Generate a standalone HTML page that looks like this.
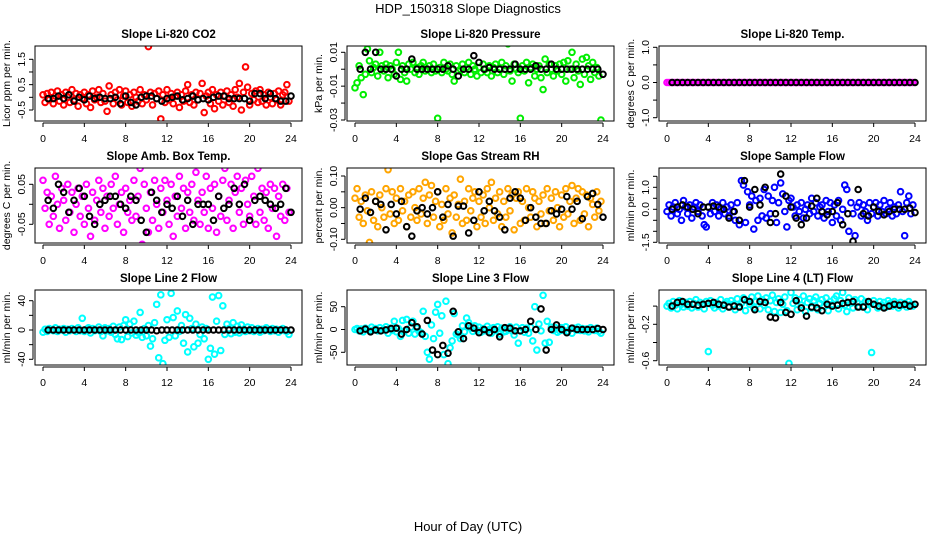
<!DOCTYPE html>
<html><head><meta charset="utf-8"><style>
html,body{margin:0;padding:0;background:#fff}
svg{display:block;font-family:"Liberation Sans",Arial,sans-serif}
</style></head><body>
<svg id="chart" width="936" height="540" viewBox="0 0 936 540">
<text x="468" y="13" text-anchor="middle" font-size="13">HDP_150318  Slope Diagnostics</text>
<text x="468" y="531" text-anchor="middle" font-size="13">Hour of Day (UTC)</text>
</svg>
<script>
const xTicks = [0,4,8,12,16,20,24];
const co2Colored = [0.1,-0.2,0.15,-0.1,0.2,-0.25,0.05,0.25,-0.15,0.1,-0.3,0.2,0.0,-0.2,0.3,-0.1,0.15,-0.35,0.1,-0.05,0.2,-0.25,0.1,-0.4,0.25,-0.1,0.0,0.3,-0.2,0.15,-0.15,-0.55,0.45,0.1,-0.25,0.2,-0.1,0.3,-0.3,0.05,0.25,-0.2,0.1,-0.35,0.2,0.0,-0.15,0.3,-0.25,0.1,-0.1,2.0,0.2,-0.3,0.15,-0.05,0.25,-0.85,0.1,-0.2,0.3,-0.1,0.15,-0.25,0.05,0.2,-0.4,0.1,-0.15,0.25,0.5,-0.2,0.1,-0.3,0.2,-0.1,0.15,0.55,-0.6,0.05,0.2,-0.25,0.3,-0.45,0.1,-0.15,0.2,-0.3,0.05,0.25,-0.2,0.1,-0.35,0.3,0.0,0.55,-0.5,0.2,1.2,0.4,-0.3,0.15,-0.1,0.25,-0.2,0.3,-0.15,0.1,-0.3,0.2,0.0,-0.25,0.15,-0.1,0.25,-0.3,0.1,0.2,0.5,-0.15];
const co2Black = [-0.05,-0.05,0.05,-0.05,0.1,-0.15,0.0,-0.1,0.05,-0.05,0.0,-0.05,-0.05,0.0,-0.25,0.05,-0.2,-0.3,0.0,0.05,0.05,-0.05,-0.15,-0.05,0.0,0.05,-0.1,-0.05,0.05,-0.1,-0.05,-0.1,0.0,0.05,0.05,-0.05,-0.05,-0.05,-0.05,-0.15,0.15,0.15,-0.05,0.15,-0.05,-0.15,-0.15,0.05];
const presColored = [-0.011,-0.008,0.002,-0.005,-0.015,-0.003,0.012,0.005,-0.002,0.001,0.003,-0.004,0.01,0.002,-0.001,0.003,-0.005,0.002,0.0,-0.003,0.004,0.01,-0.006,0.002,-0.002,-0.007,0.003,0.0,0.004,-0.002,0.001,-0.003,0.002,0.004,-0.001,0.0,0.002,-0.002,0.003,-0.001,-0.029,0.001,-0.002,0.004,0.0,-0.001,0.003,-0.003,-0.007,0.002,-0.001,0.0,0.003,-0.002,0.001,0.004,-0.003,0.002,0.0,-0.004,0.001,-0.002,0.003,0.0,-0.002,0.002,-0.004,0.001,0.003,-0.002,0.0,0.004,-0.003,0.002,0.015,-0.001,-0.007,0.003,0.0,-0.002,-0.029,0.002,-0.001,0.004,-0.008,0.001,0.003,-0.004,0.0,0.002,-0.005,-0.012,0.006,-0.002,0.003,0.0,-0.004,0.002,-0.001,0.003,-0.003,0.004,-0.007,0.005,0.0,0.01,-0.005,0.003,-0.001,-0.009,0.006,-0.003,0.007,0.002,-0.006,0.004,-0.002,0.001,-0.004,-0.03];
const presBlack = [0.0,0.01,0.0,0.01,0.0,0.0,0.0,-0.004,0.0,0.0,0.006,0.0,0.0,0.0,0.0,0.0,0.0,0.002,0.0,-0.004,0.0,0.0,0.008,0.004,0.0,0.001,0.0,0.0,0.0,0.0,0.003,0.0,0.0,0.0,0.002,0.0,0.0,0.003,0.0,0.0,0.0,0.0,0.0,0.0,0.0,0.0,0.0,-0.003];
const tempColored = [0,0,0,0,0,0,0,0,0,0,0,0,0,0,0,0,0,0,0,0,0,0,0,0,0,0,0,0,0,0,0,0,0,0,0,0,0,0,0,0,0,0,0,0,0,0,0,0,0,0,0,0,0,0,0,0,0,0,0,0,0,0,0,0,0,0,0,0,0,0,0,0,0,0,0,0,0,0,0,0,0,0,0,0,0,0,0,0,0,0,0,0,0,0,0,0,0,0,0,0,0,0,0,0,0,0,0,0,0,0,0,0,0,0,0,0,0,0,0,0];
const tempBlack = [0,0,0,0,0,0,0,0,0,0,0,0,0,0,0,0,0,0,0,0,0,0,0,0,0,0,0,0,0,0,0,0,0,0,0,0,0,0,0,0,0,0,0,0,0,0,0,0];
const ambColored = [0.06,-0.01,0.03,-0.05,0.02,-0.03,0.07,0.0,-0.06,0.04,0.01,-0.04,0.05,-0.02,0.03,-0.07,0.0,0.04,-0.03,0.02,-0.05,0.05,-0.01,-0.08,0.03,-0.04,0.01,0.06,-0.02,0.04,-0.06,0.02,-0.03,0.05,-0.01,0.07,-0.05,0.0,0.03,-0.07,0.04,-0.02,0.01,-0.04,0.06,-0.03,0.02,0.09,-0.1,0.05,-0.01,-0.07,0.03,-0.04,0.06,0.0,-0.06,0.04,-0.02,0.06,0.01,-0.05,0.05,-0.08,0.02,-0.03,0.07,-0.01,0.04,-0.06,0.03,-0.02,0.05,-0.04,0.08,0.01,-0.05,0.03,-0.02,0.07,-0.06,0.04,-0.01,0.05,-0.07,0.02,-0.03,0.06,0.09,-0.04,0.01,0.05,-0.06,0.03,0.07,-0.02,0.04,-0.05,0.06,0.0,-0.03,0.07,0.02,-0.05,0.09,-0.02,0.04,-0.04,0.03,-0.06,0.05,-0.01,0.04,-0.08,0.02,-0.03,0.05,-0.04,0.04,-0.02];
const ambBlack = [0.01,-0.01,0.05,0.03,-0.02,0.01,0.04,0.02,-0.03,-0.05,0.0,0.01,0.02,0.02,0.0,-0.01,0.02,0.01,-0.04,-0.07,0.03,0.01,-0.02,0.0,-0.01,0.02,-0.03,0.01,-0.05,0.0,0.0,0.0,-0.04,0.02,-0.01,0.0,0.04,0.0,0.05,-0.04,0.01,0.02,0.01,0.0,-0.01,0.0,0.04,-0.02];
const rhColored = [0.03,0.06,-0.03,0.02,-0.05,0.04,-0.01,-0.11,0.05,-0.04,0.02,-0.06,0.04,0.0,-0.03,0.06,0.12,-0.02,0.05,-0.05,0.03,-0.04,0.06,-0.01,0.02,-0.06,0.04,-0.03,0.05,0.0,-0.04,0.06,-0.02,0.03,0.08,-0.05,0.04,0.07,-0.03,0.02,0.05,-0.06,0.01,-0.04,0.06,-0.02,0.03,-0.08,0.04,-0.03,0.01,0.09,-0.05,0.02,-0.04,0.06,-0.01,0.03,0.05,-0.06,0.02,-0.03,0.04,-0.05,0.06,0.0,0.08,-0.04,0.03,-0.02,0.05,-0.06,0.02,-0.03,0.06,-0.01,0.04,-0.07,0.03,0.05,-0.05,0.02,-0.04,0.06,0.0,-0.03,0.05,0.03,-0.06,0.02,-0.02,0.04,-0.05,0.06,-0.01,0.03,-0.04,0.05,0.0,-0.06,0.04,-0.03,0.06,-0.02,0.02,0.07,-0.05,0.03,0.06,-0.04,0.05,-0.02,0.04,-0.06,0.03,0.01,-0.03,0.05,-0.01,0.02];
const rhBlack = [-0.005,0.03,-0.015,0.02,0.01,-0.07,0.01,-0.02,0.02,-0.06,-0.09,-0.01,0.0,-0.02,0.0,0.05,-0.03,0.01,-0.09,0.005,0.005,-0.08,-0.04,0.05,-0.01,0.02,-0.01,-0.03,-0.07,0.03,0.05,0.03,-0.04,0.0,-0.03,-0.05,-0.05,-0.01,-0.02,-0.005,0.035,-0.005,0.02,-0.035,0.035,0.045,0.01,-0.03];
const flowColored = [-0.1,0.2,-0.3,0.1,0.3,-0.2,0.0,-0.5,0.4,0.1,-0.2,0.2,-0.4,0.1,0.3,-0.1,0.2,-0.3,-0.7,-0.8,0.1,-0.2,0.3,-0.1,0.2,-0.3,0.0,0.3,-0.2,0.1,-0.3,0.2,-0.1,-0.5,0.3,-0.7,1.3,1.1,-0.6,0.8,0.2,0.6,-0.9,0.4,-0.5,0.5,-0.3,0.9,-0.4,0.6,-0.2,0.4,1.0,-0.6,0.3,1.2,0.7,-0.1,-0.8,0.4,0.5,0.1,-0.3,0.2,-0.1,0.3,-0.4,0.0,0.2,-0.2,0.5,-0.1,0.3,-0.3,0.1,0.2,-0.4,0.4,-0.1,0.3,-0.6,0.2,-0.3,0.4,-0.5,0.0,1.1,0.9,-1.0,0.3,-0.2,-1.2,0.1,0.3,-0.3,0.2,-0.1,-0.5,0.3,-0.2,0.1,0.3,-0.3,0.2,-0.1,0.4,-0.2,0.0,0.3,-0.3,0.1,-0.2,0.2,0.8,-0.1,-1.2,0.3,0.6,-0.2,0.2];
const flowBlack = [0.0,0.1,0.2,0.1,0.0,-0.2,0.1,0.1,0.15,0.1,0.0,-0.4,-0.1,-0.5,1.3,0.1,0.9,0.2,1.0,-0.6,-0.2,1.6,0.6,0.1,-0.4,-0.7,-0.4,0.15,0.5,-0.1,-0.25,-0.1,0.3,-0.7,-0.2,-1.45,0.9,-0.2,-0.3,0.1,-0.1,-0.25,-0.1,0.0,0.0,0.0,0.05,-0.15];
const line2Colored = [-3,1,-2,2,0,-1,3,-2,1,0,2,-3,1,-1,2,0,-2,3,-1,16,-2,1,3,-4,2,-1,0,4,-2,-8,3,-1,2,-3,5,-6,-12,4,-13,6,14,-9,8,-4,12,-7,-3,24,-10,2,-8,6,-22,-12,10,35,-38,48,-46,-14,14,-10,50,17,-8,26,-2,6,-18,21,-30,16,2,-23,8,-18,-6,4,-12,2,-40,-25,45,-33,12,47,-28,33,-6,8,2,-5,10,-3,5,-4,7,1,-2,4,-1,3,-2,0,2,-3,1,-1,3,0,-2,2,-1,1,-3,0,2,-1,-2,-6];
const line2Black = [0,0,0,0,0,0,0,0,0,0,0,0,0,0,0,0,0,0,0,0,0,-1,0,0,0,0,0,0,0,0,0,0,0,0,0,0,0,0,0,0,0,0,0,0,0,0,0,0];
const line3Colored = [0,2,-3,1,-5,3,0,-2,5,-1,2,-3,4,-2,0,6,-8,3,-2,18,-5,2,-15,20,-3,22,-8,5,18,-10,3,-4,-7,40,-15,-50,-65,10,-20,38,55,-8,30,-55,62,-75,-40,-25,35,-10,-12,-20,8,-5,25,15,3,-4,8,-2,5,-6,2,-3,7,0,-8,4,-2,6,-10,3,-5,-4,2,6,-3,-12,5,-30,-2,4,-6,3,-8,5,-25,50,-45,12,-3,75,-30,18,-28,5,-2,4,-6,-3,4,-2,6,-4,1,-8,3,-1,5,-2,2,-3,1,-5,4,0,-2,3,-4,-8];
const line3Black = [-3,1,-5,-1,-3,-1,2,3,-10,0,15,6,-10,20,-45,-55,-35,-52,40,-5,-20,8,3,-7,0,-7,0,-16,4,3,-3,-3,0,18,0,45,-45,0,10,0,-7,3,0,0,0,0,2,0];
const line4Colored = [0.0,0.03,-0.02,0.05,0.01,-0.03,0.06,0.02,-0.01,0.04,0.0,0.05,-0.02,0.03,0.07,-0.01,0.04,0.02,-0.03,0.05,-0.5,0.06,0.01,-0.02,0.04,0.0,0.07,-0.03,0.03,0.05,-0.01,0.06,0.02,-0.04,0.08,0.0,0.03,0.09,-0.05,0.06,0.02,0.1,-0.02,0.05,0.11,-0.03,0.07,0.01,0.09,-0.04,0.06,0.12,-0.06,0.04,0.08,-0.07,0.02,0.1,-0.05,-0.63,0.15,0.03,0.09,-0.04,0.07,0.01,0.11,-0.06,0.04,0.08,-0.02,0.06,0.1,-0.04,0.03,0.07,0.0,0.09,-0.05,0.05,0.02,0.08,0.11,-0.03,0.06,0.15,0.01,-0.06,0.09,0.03,-0.02,0.07,0.04,-0.01,0.08,0.0,0.05,-0.04,0.03,-0.51,0.06,0.02,-0.02,0.05,0.01,0.04,-0.01,0.06,0.03,0.0,0.05,0.02,-0.02,0.04,0.01,0.03,-0.01,0.05,0.02,0.0];
const line4Black = [0.0,0.04,0.05,0.02,0.02,0.01,0.02,0.03,0.04,0.02,0.01,-0.01,0.0,-0.01,0.07,0.05,-0.04,0.05,0.04,-0.12,-0.13,0.04,-0.07,-0.09,0.06,-0.02,-0.11,-0.01,-0.02,-0.05,0.02,0.0,0.01,0.03,0.04,0.05,-0.01,-0.01,0.05,0.02,0.0,-0.02,0.0,0.02,0.01,0.02,0.0,0.02];

const co2Ticks=[-0.5,0,0.5,1,1.5], co2Labels=["-0.5","","0.5","","1.5"];
const presTicks=[-0.03,-0.02,-0.01,0,0.01], presLabels=["-0.03","","-0.01","","0.01"];
const tempTicks=[-1,-0.5,0,0.5,1], tempLabels=["-1.0","","0.0","","1.0"];
const ambTicks=[-0.05,0,0.05], ambLabels=["-0.05","","0.05"];
const rhTicks=[-0.1,-0.05,0,0.05,0.1], rhLabels=["-0.10","","0.00","","0.10"];
const flowTicks=[-1.5,-1,-0.5,0,0.5,1,1.5], flowLabels=["-1.5","","","0.0","","1.0",""];
const line2Ticks=[-40,-20,0,20,40], line2Labels=["-40","","0","","40"];
const line3Ticks=[-50,0,50], line3Labels=["-50","0","50"];
const line4Ticks=[-0.6,-0.4,-0.2,0], line4Labels=["-0.6","","-0.2",""];

const panels = [
 {name:"co2",title:"Slope Li-820 CO2",ylab:"Licor ppm per min.",col:0,row:0,color:"#ff0000",c:co2Colored,b:co2Black,ticks:co2Ticks,labels:co2Labels,ref:[1.5,59.3,-0.5,110]},
 {name:"pressure",title:"Slope Li-820 Pressure",ylab:"kPa per min.",col:1,row:0,color:"#00ee00",c:presColored,b:presBlack,ticks:presTicks,labels:presLabels,ref:[0.01,52.3,-0.03,120]},
 {name:"li820-temp",title:"Slope Li-820 Temp.",ylab:"degrees C per min.",col:2,row:0,color:"#ff00ff",c:tempColored,b:tempBlack,ticks:tempTicks,labels:tempLabels,ref:[1,47.3,-1,117.7]},
 {name:"amb-box-temp",title:"Slope Amb. Box Temp.",ylab:"degrees C per min.",col:0,row:1,color:"#ff00ff",c:ambColored,b:ambBlack,ticks:ambTicks,labels:ambLabels,ref:[0.05,184.3,-0.05,224.3]},
 {name:"gas-stream-rh",title:"Slope Gas Stream RH",ylab:"percent per min.",col:1,row:1,color:"#ffa500",c:rhColored,b:rhBlack,ticks:rhTicks,labels:rhLabels,ref:[0.1,176,-0.1,239.3]},
 {name:"sample-flow",title:"Slope Sample Flow",ylab:"ml/min per min.",col:2,row:1,color:"#0000ff",c:flowColored,b:flowBlack,ticks:flowTicks,labels:flowLabels,ref:[1,187.3,-1,231.3]},
 {name:"line2-flow",title:"Slope Line 2 Flow",ylab:"ml/min per min.",col:0,row:2,color:"#00ffff",c:line2Colored,b:line2Black,ticks:line2Ticks,labels:line2Labels,ref:[40,300.7,-40,359.3]},
 {name:"line3-flow",title:"Slope Line 3 Flow",ylab:"ml/min per min.",col:1,row:2,color:"#00ffff",c:line3Colored,b:line3Black,ticks:line3Ticks,labels:line3Labels,ref:[50,306.7,-50,352.3]},
 {name:"line4-flow",title:"Slope Line 4 (LT) Flow",ylab:"ml/min per min.",col:2,row:2,color:"#00ffff",c:line4Colored,b:line4Black,ticks:line4Ticks,labels:line4Labels,ref:[-0.2,324.3,-0.6,360.7]}
];

const NS="http://www.w3.org/2000/svg";
const svg=document.getElementById("chart");
const colLeft=[35,347,659], rowTop=[46,168,290], boxW=267, boxH=75;
function mk(tag,attrs,parent){const e=document.createElementNS(NS,tag);for(const k in attrs)e.setAttribute(k,attrs[k]);parent.appendChild(e);return e;}

panels.forEach(p=>{
  const L=colLeft[p.col], T=rowTop[p.row], B=T+boxH, R=L+boxW;
  const g=mk("g",{},svg);
  
  
  const xs=h=>L+8+h*(248/24);
  const [v1,y1,v2,y2]=p.ref;
  const ys=v=>y1+(v-v1)*(y2-y1)/(v2-v1);
  const clipId="clip-"+p.name;
  const cp=mk("clipPath",{id:clipId},g); mk("rect",{x:L,y:T,width:boxW,height:boxH},cp);
  const t=mk("text",{x:(L+R)/2,y:T-8,"text-anchor":"middle","font-size":"11.5","font-weight":"bold"},g);
  t.textContent=p.title;
  
  
  const yl=mk("text",{transform:`translate(${L-25},${(T+B)/2}) rotate(-90)`,"text-anchor":"middle","font-size":"10.5"},g);
  yl.textContent=p.ylab;
  
  
  const pts=mk("g",{"clip-path":`url(#${clipId})`,fill:"none"},g);
  
  
  p.c.forEach((v,i)=>{
    const c=mk("circle",{cx:xs(i*0.2),cy:ys(v),r:2.8,stroke:p.color,"stroke-width":2},pts);
    
    
  });
  p.b.forEach((v,i)=>{
    const c=mk("circle",{cx:xs(0.5+i*0.5),cy:ys(v),r:2.8,stroke:"#000","stroke-width":2},pts);
    
    
  });
  const box=mk("rect",{x:L,y:T,width:boxW,height:boxH,fill:"none",stroke:"#000","stroke-width":1},g);
  
  
  const xa=mk("g",{stroke:"#000","stroke-width":1},g);
  
  
  mk("line",{x1:xs(xTicks[0]),x2:xs(xTicks[xTicks.length-1]),y1:B+2,y2:B+2},xa);
  xTicks.forEach(h=>{
    mk("line",{x1:xs(h),x2:xs(h),y1:B+2,y2:B+6},xa);
    const tl=mk("text",{x:xs(h),y:B+21,"text-anchor":"middle","font-size":"10.5",stroke:"none",fill:"#000"},xa);
    tl.textContent=h;
    
    
  });
  const ya=mk("g",{stroke:"#000","stroke-width":1},g);
  
  
  mk("line",{x1:L-2,x2:L-2,y1:ys(p.ticks[0]),y2:ys(p.ticks[p.ticks.length-1])},ya);
  p.ticks.forEach((v,i)=>{
    mk("line",{x1:L-6,x2:L-2,y1:ys(v),y2:ys(v)},ya);
    if(p.labels[i]){
      const tl=mk("text",{transform:`translate(${L-10},${ys(v)}) rotate(-90)`,"text-anchor":"middle","font-size":"10.5",stroke:"none",fill:"#000"},ya);
      tl.textContent=p.labels[i];
      
      
    }
  });
});
</script>
</body></html>
